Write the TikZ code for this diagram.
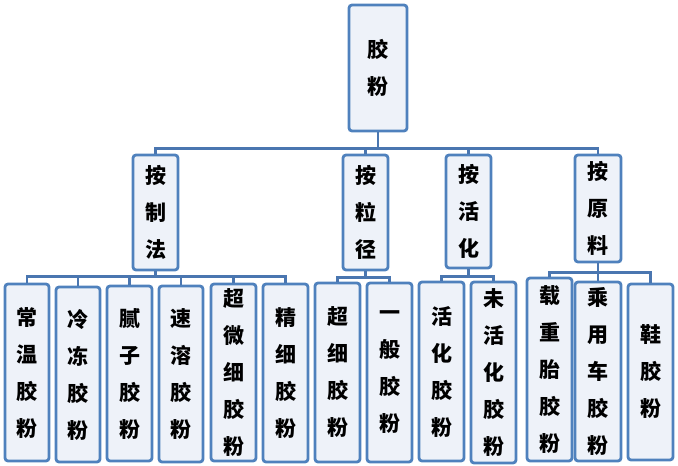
\documentclass[tikz,border=0pt]{standalone}
\usepackage{fontspec}
\setmainfont{Noto Sans CJK SC Black}
\begin{document}
\begin{tikzpicture}[x=1pt,y=-1pt,
 bx/.style={draw=boxblue,line width=2.8pt,fill=boxfill,rounded corners=3pt,inner sep=0pt,align=center,font=\fontsize{21}{37}\selectfont},
 ln/.style={draw=lineblue,line width=2.5pt}]
\definecolor{boxblue}{HTML}{4F81BD}
\definecolor{boxfill}{HTML}{EEF2F9}
\definecolor{lineblue}{HTML}{4A76B0}
\useasboundingbox (0,0) rectangle (678,466);
\newcommand{\bxn}[6]{\node[bx,minimum width=#4-#2,minimum height=#5-#3] (#1) at ({(#2+#4)/2},{(#3+#5)/2}) {#6};}
\bxn{root}{349}{5}{407}{131}{胶\\粉}
\bxn{a}{133}{155}{178}{270}{按\\制\\法}
\bxn{b}{343}{155}{388}{270}{按\\粒\\径}
\bxn{c}{446}{155}{491}{268}{按\\活\\化}
\bxn{d}{575}{155}{621}{262}{按\\原\\料}
\bxn{a1}{5}{284}{49}{461}{常\\温\\胶\\粉}
\bxn{a2}{56}{287}{100}{462}{冷\\冻\\胶\\粉}
\bxn{a3}{107}{286}{152}{461}{腻\\子\\胶\\粉}
\bxn{a4}{159}{286}{203}{462}{速\\溶\\胶\\粉}
\bxn{a5}{211}{284}{256}{461}{\fontsize{21}{35}\selectfont 超\\微\\细\\胶\\粉}
\bxn{a6}{263}{284}{308}{462}{精\\细\\胶\\粉}
\bxn{b1}{315}{283}{360}{462}{超\\细\\胶\\粉}
\bxn{b2}{367}{283}{412}{462}{一\\般\\胶\\粉}
\bxn{c1}{419}{282}{464}{461}{活\\化\\胶\\粉}
\bxn{c2}{471}{282}{516}{463}{\fontsize{21}{35}\selectfont 未\\活\\化\\胶\\粉}
\bxn{d1}{527}{278}{572}{461}{\fontsize{21}{35}\selectfont 载\\重\\胎\\胶\\粉}
\bxn{d2}{575}{282}{621}{461}{\fontsize{21}{35}\selectfont 乘\\用\\车\\胶\\粉}
\bxn{d3}{628}{284}{673}{460}{鞋\\胶\\粉}
\foreach \c in {a,b,c,d} \draw[ln] (root.south) -- ++(0,16) -| (\c.north);
\foreach \c in {a1,a2,a3,a4,a5,a6} \draw[ln] (a.south) -- ++(0,5) -| (\c.north);
\foreach \c in {b1,b2} \draw[ln] (b.south) -- ++(0,6) -| (\c.north);
\foreach \c in {c1,c2} \draw[ln] (c.south) -- ++(0,7) -| (\c.north);
\foreach \c in {d1,d2,d3} \draw[ln] (d.south) -- ++(0,9) -| (\c.north);
\end{tikzpicture}
\end{document}
